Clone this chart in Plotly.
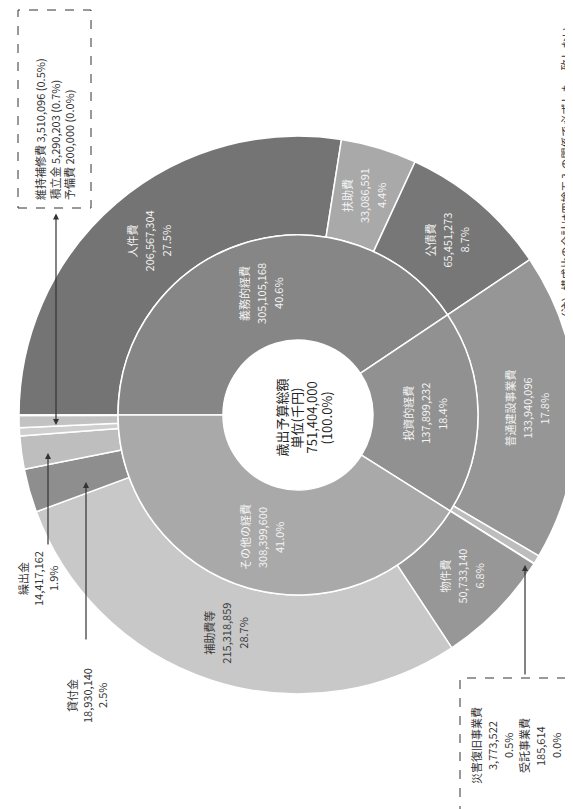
import math
import plotly.graph_objects as go

# ---------------- data ----------------
outer_labels = ["人件費", "扶助費", "公債費", "普通建設事業費", "災害復旧事業費", "受託事業費",
                "物件費", "補助費等", "貸付金", "繰出金", "維持補修費", "積立金", "予備費"]
outer_values = [206567304, 33086591, 65451273, 133940096, 3773522, 185614,
                50733140, 215318859, 18930140, 14417162, 3510096, 5290203, 200000]
outer_pct = ["27.5%", "4.4%", "8.7%", "17.8%", "0.5%", "0.0%",
             "6.8%", "28.7%", "2.5%", "1.9%", "0.5%", "0.7%", "0.0%"]
inner_labels = ["義務的経費", "投資的経費", "その他の経費"]
inner_values = [305105168, 137899232, 308399600]
inner_pct = ["40.6%", "18.4%", "41.0%"]
total_label = ["歳出予算総額", "単位(千円)", "751,404,000", "(100.0%)"]
note_text = "（注）構成比の合計は四捨五入の関係で必ずしも一致しない"

outer_colors = ["#747474", "#a9a9a9", "#777777", "#969696", "#bdbdbd", "#c4c4c4",
                "#979797", "#c8c8c8", "#8e8e8e", "#bebebe", "#cfcfcf", "#c2c2c2", "#d2d2d2"]
inner_colors = ["#868686", "#919191", "#a9a9a9"]

# ---------------- geometry ----------------
W, H = 573, 809
CX, CY = 290, 407          # centre in pixels
R_OUT, R_MID, R_IN = 279, 180, 75
FONT = "Noto Sans CJK JP"


def dom(r):
    return dict(x=[(CX - r) / W, (CX + r) / W], y=[1 - (CY + r) / H, 1 - (CY - r) / H])


fig = go.Figure()
fig.add_trace(go.Pie(values=outer_values, labels=outer_labels, sort=False, direction="clockwise",
                     rotation=270, hole=R_MID / R_OUT, domain=dom(R_OUT), textinfo="none",
                     hoverinfo="label+value", marker=dict(colors=outer_colors, line=dict(color="white", width=1.5)),
                     showlegend=False))
fig.add_trace(go.Pie(values=inner_values, labels=inner_labels, sort=False, direction="clockwise",
                     rotation=270, hole=R_IN / R_MID, domain=dom(R_MID), textinfo="none",
                     hoverinfo="label+value", marker=dict(colors=inner_colors, line=dict(color="white", width=1.5)),
                     showlegend=False))

ann = []


def px(x, y):
    return x / W, 1 - y / H


def rot_lines(lines, x, y, pitch, size, color):
    n = len(lines)
    for i, t in enumerate(lines):
        xx = x + (i - (n - 1) / 2) * pitch
        pxx, pyy = px(xx, y)
        ann.append(dict(x=pxx, y=pyy, xref="paper", yref="paper", text=t, showarrow=False,
                        textangle=-90, font=dict(family=FONT, size=size, color=color),
                        xanchor="center", yanchor="middle"))


def ring_pos(values, idx, radius):
    tot = sum(values)
    start = sum(values[:idx]) / tot * 360
    mid = math.radians(start + values[idx] / tot * 180)
    return CX - math.cos(mid) * radius, CY - math.sin(mid) * radius


def fmt(v):
    return f"{v:,}"


# outer labels (inside slices)
r_lab = (R_MID + R_OUT) / 2
outer_text_color = {0: "#f2f2f2", 1: "#f5f5f5", 2: "#f2f2f2", 3: "#f2f2f2", 6: "#f2f2f2", 7: "#3a3a3a"}
for i, c in outer_text_color.items():
    x, y = ring_pos(outer_values, i, r_lab)
    rot_lines([outer_labels[i], fmt(outer_values[i]), outer_pct[i]], x, y, 17, 11, c)

# inner labels
r_lab2 = (R_IN + R_MID) / 2
for i in range(3):
    x, y = ring_pos(inner_values, i, r_lab2)
    rot_lines([inner_labels[i], fmt(inner_values[i]), inner_pct[i]], x, y, 17, 11, "#f4f4f4")

# centre
rot_lines(total_label, CX + 5, CY + 3, 15, 13, "#222222")

# outside labels
rot_lines([outer_labels[9], fmt(outer_values[9]), outer_pct[9]], 30, 571, 15, 11, "#333333")
rot_lines([outer_labels[8], fmt(outer_values[8]), outer_pct[8]], 79, 688, 15, 11, "#333333")


# arrows
def arrow(x, y_head, y_tail, both=False):
    hx, hy = px(x, y_head)
    ann.append(dict(x=hx, y=hy, xref="paper", yref="paper", text="", showarrow=True,
                    ax=0, ay=y_tail - y_head, arrowhead=2, arrowsize=1, arrowwidth=1.2,
                    arrowcolor="#333333", arrowside="end+start" if both else "end"))


arrow(40, 445, 538)
arrow(78, 474, 633)
arrow(48, 417, 204, both=True)
arrow(517, 557, 668)

# boxes
shapes = [
    dict(type="rect", xref="paper", yref="paper", x0=10 / W, x1=83 / W, y0=1 - 200 / H, y1=1 - 2 / H,
         line=dict(color="#333333", width=1, dash="dash")),
    dict(type="rect", xref="paper", yref="paper", x0=452 / W, x1=563 / W, y0=1 - 806 / H, y1=1 - 670 / H,
         line=dict(color="#333333", width=1, dash="dash")),
]

# top-left box text (left aligned -> starts at bottom)
box1 = [f"{outer_labels[10]} {fmt(outer_values[10])} ({outer_pct[10]})",
        f"{outer_labels[11]} {fmt(outer_values[11])} ({outer_pct[11]})",
        f"{outer_labels[12]} {fmt(outer_values[12])} ({outer_pct[12]})"]
for i, t in enumerate(box1):
    pxx, pyy = px(32 + i * 14.5, 194)
    ann.append(dict(x=pxx, y=pyy, xref="paper", yref="paper", text=t, showarrow=False, textangle=-90,
                    font=dict(family=FONT, size=11, color="#333333"), xanchor="center", yanchor="bottom"))

box2 = [outer_labels[4], fmt(outer_values[4]), outer_pct[4], outer_labels[5], fmt(outer_values[5]), outer_pct[5]]
rot_lines(box2, 508, 738, 16, 11, "#333333")

# note
nx, ny = px(558, 318)
ann.append(dict(x=nx, y=ny, xref="paper", yref="paper", text=note_text, showarrow=False, textangle=-90,
                font=dict(family=FONT, size=11, color="#333333"), xanchor="center", yanchor="bottom"))

fig.update_layout(width=W, height=H, margin=dict(l=0, r=0, t=0, b=0), paper_bgcolor="white",
                  plot_bgcolor="white", annotations=ann, shapes=shapes, showlegend=False)
fig.write_html("out.html")
